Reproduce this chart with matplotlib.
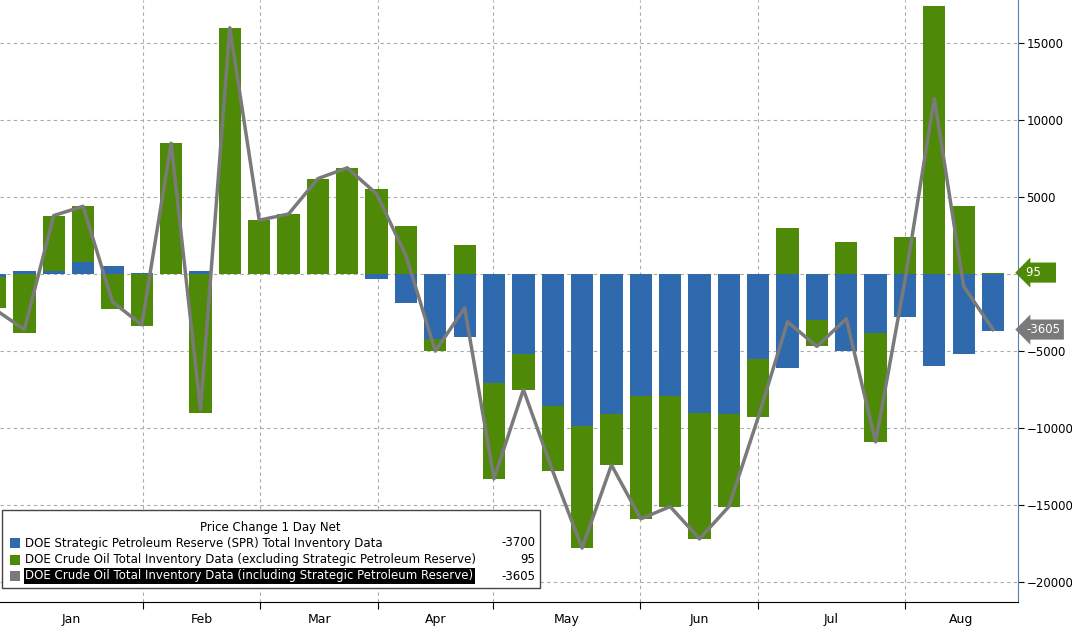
import numpy as np
import matplotlib.pyplot as plt
from matplotlib.patches import Rectangle

# weekly changes, thousand barrels
spr = [-200, 200, 200, 800, 500, 100, 0, 200, 0, 0, 0, 0, 0, -300, -1900, -4200, -4100, -7100,
       -5200, -8600, -9900, -9100, -7900, -7900, -9000, -9100, -5500, -6100, -3000, -5000,
       -3800, -2800, -6000, -5200, -3700]
crude = [-2000, -3800, 3600, 3600, -2300, -3400, 8500, -9000, 16000, 3500, 3900, 6200, 6900, 5500,
         3100, -800, 1900, -6200, -2300, -4200, -7900, -3300, -8000, -7200, -8200, -6000, -3800,
         3000, -1700, 2100, -7100, 2400, 17400, 4400, 95]
total = [-2300, -3600, 3800, 4400, -1800, -3300, 8500, -8800, 16000, 3500, 3900, 6200, 6900, 5200,
         1200, -5000, -2200, -13300, -7500, -12800, -17800, -12400, -15900, -15100, -17200, -15100,
         -9300, -3100, -4700, -2900, -10900, -400, 11400, -800, -3605]
months = ['Jan', 'Feb', 'Mar', 'Apr', 'May', 'Jun', 'Jul', 'Aug']
month_edges = [0.17, 5.04, 9.03, 13.05, 16.97, 21.98, 26.0, 31.0, 34.85]

blue = '#2e6aad'
green = '#4e8a07'
grey = '#7a7a7a'

spr = np.array(spr, float)
crude = np.array(crude, float)
x = np.arange(len(spr))
w = 0.76

fig = plt.figure(figsize=(10.72, 6.33), dpi=100)
ax = fig.add_axes([0, 31 / 633, 1018 / 1072, 1 - 31 / 633])

# stacking: same sign stacks on spr, opposite sign starts at zero
same = np.sign(spr) == np.sign(crude)
bottom = np.where(same, spr, 0)
ax.bar(x, spr, w, color=blue, zorder=2)
ax.bar(x, crude, w, bottom=bottom, color=green, zorder=2)
ax.plot(x, total, color=grey, lw=2.5, zorder=3)

ax.set_xlim(month_edges[0], month_edges[-1])
ax.set_ylim(-21300, 17800)
ax.yaxis.tick_right()
ax.set_yticks(np.arange(-20000, 15001, 5000))
ax.tick_params(axis='y', labelsize=8.5, length=4, direction='out', pad=2)
ax.set_xticks(month_edges[1:-1])
ax.set_xticklabels([])
ax.tick_params(axis='x', length=5)
for i, m in enumerate(months):
    ax.text((month_edges[i] + month_edges[i + 1]) / 2, -0.018, m, transform=ax.get_xaxis_transform(),
            ha='center', va='top', fontsize=9)
ax.text(17.3, -0.05, '2026', transform=ax.get_xaxis_transform(), ha='center', va='top', fontsize=9)
ax.grid(True, ls=(0, (3, 3)), color='#aaaaaa', lw=0.8, zorder=0)
for s in ['top', 'left']:
    ax.spines[s].set_visible(False)
ax.spines['right'].set_color('#5580aa')

# right-side value tags
ax.annotate('95   ', xy=(1, 95), xycoords=('axes fraction', 'data'), xytext=(6, 0),
            textcoords='offset points', va='center', fontsize=8.5, color='white',
            bbox=dict(boxstyle='larrow,pad=0.3', fc=green, ec='none'))
ax.annotate('-3605', xy=(1, -3605), xycoords=('axes fraction', 'data'), xytext=(6, 0),
            textcoords='offset points', va='center', fontsize=8.5, color='white',
            bbox=dict(boxstyle='larrow,pad=0.3', fc=grey, ec='none'))

# legend box
def fx(px):
    return px / 1072


def fy(py):
    return 1 - py / 633


fig.patches.append(Rectangle((fx(2), fy(588)), fx(538), 78 / 633, transform=fig.transFigure,
                             fc='white', ec='#444444', lw=1, zorder=5))
fig.text(fx(270), fy(527), 'Price Change 1 Day Net', ha='center', va='center', fontsize=8.5, zorder=6)
rows = [('DOE Strategic Petroleum Reserve (SPR) Total Inventory Data', '-3700', blue),
        ('DOE Crude Oil Total Inventory Data (excluding Strategic Petroleum Reserve)', '95', green),
        ('DOE Crude Oil Total Inventory Data (including Strategic Petroleum Reserve)', '-3605', grey)]
for i, (lab, val, c) in enumerate(rows):
    yy = fy(543 + 16.5 * i)
    fig.patches.append(Rectangle((fx(10), yy - 5 / 633), fx(10), 10 / 633, transform=fig.transFigure,
                                 fc=c, ec='none', zorder=6))
    if i == 2:
        fig.text(fx(25), yy, lab, ha='left', va='center', fontsize=8.5, color='white', zorder=6,
                 bbox=dict(fc='black', ec='none', pad=1))
    else:
        fig.text(fx(25), yy, lab, ha='left', va='center', fontsize=8.5, zorder=6)
    fig.text(fx(535), yy, val, ha='right', va='center', fontsize=8.5, zorder=6)

fig.savefig('out.png', dpi=100)
